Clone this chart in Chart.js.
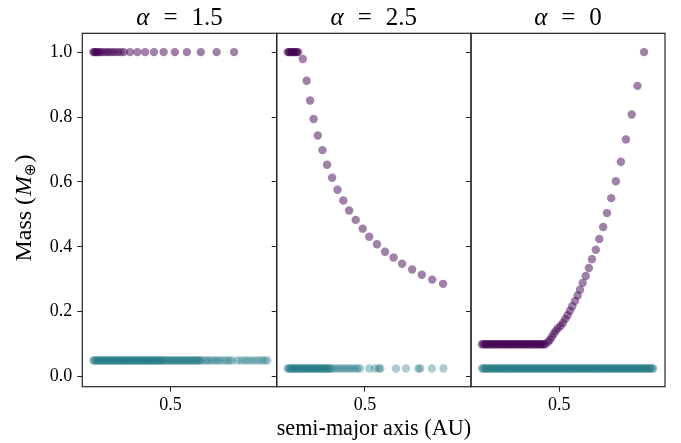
<!DOCTYPE html>
<html>
<head>
<meta charset="utf-8">
<script src="https://cdn.jsdelivr.net/npm/chart.js@4.4.1/dist/chart.umd.min.js"></script>
<style>
  html, body { margin: 0; padding: 0; background: #fff; }
  #wrap { position: relative; width: 681px; height: 443px; }
  #wrap canvas { position: absolute; left: 0; top: 0; }
</style>
</head>
<body>
<div id="wrap">
  <canvas id="c0" width="681" height="443"></canvas>
  <canvas id="c1" width="681" height="443"></canvas>
  <canvas id="c2" width="681" height="443"></canvas>
</div>
<script>
// ---- data ----
var panelSymbols = ['α', 'α', 'α'];
var panelValues = ['1.5', '2.5', '0'];
var yTicks = [0.0, 0.2, 0.4, 0.6, 0.8, 1.0];
var xTicks = [0.5];
var xLimits = [0.2716, 0.7743];
var yLimits = [-0.031, 1.058];

// alpha = 1.5
var p1UpperX = [0.300, 0.303, 0.306, 0.309, 0.313, 0.316, 0.322, 0.328, 0.335, 0.341, 0.348, 0.355,
                0.363, 0.371, 0.379, 0.395, 0.414, 0.434, 0.457, 0.482, 0.511, 0.542, 0.578, 0.619, 0.664];
var p1UpperMass = 1.0;
var p1LowerX = [0.300, 0.303, 0.306, 0.309, 0.312, 0.315, 0.318, 0.321, 0.324, 0.327, 0.330, 0.333,
                0.336, 0.339, 0.342, 0.345, 0.348, 0.351, 0.354, 0.357, 0.360, 0.363, 0.366, 0.369,
                0.372, 0.375, 0.378, 0.381, 0.384, 0.387, 0.390, 0.393, 0.396, 0.399, 0.402, 0.405,
                0.408, 0.411, 0.414, 0.417, 0.420, 0.423, 0.426, 0.429, 0.432, 0.435, 0.438, 0.441,
                0.444, 0.447, 0.450, 0.453, 0.456, 0.459, 0.462, 0.465, 0.468, 0.471, 0.474, 0.477,
                0.480, 0.484, 0.488, 0.492, 0.496, 0.500, 0.504, 0.508, 0.512, 0.516, 0.520, 0.524,
                0.528, 0.532, 0.536, 0.540, 0.544, 0.548, 0.552, 0.556, 0.560, 0.564, 0.568, 0.572,
                0.576, 0.580,
                0.588, 0.595, 0.601, 0.608, 0.616, 0.622, 0.629, 0.637, 0.645, 0.652, 0.659,
                0.673, 0.683, 0.692, 0.700, 0.709, 0.718, 0.727, 0.735, 0.743, 0.750];
var p1LowerMass = 0.05;

// alpha = 2.5
var p2UpperX = [0.300, 0.303, 0.306, 0.309, 0.312, 0.315, 0.318, 0.321, 0.324, 0.327,
                0.339, 0.349, 0.358, 0.367, 0.378, 0.390, 0.402, 0.415, 0.429, 0.444, 0.459,
                0.476, 0.494, 0.511, 0.531, 0.552, 0.574, 0.596, 0.622, 0.647, 0.674, 0.702];
var p2UpperY = [1.0, 1.0, 1.0, 1.0, 1.0, 1.0, 1.0, 1.0, 1.0, 1.0,
                0.979, 0.912, 0.851, 0.794, 0.743, 0.698, 0.653, 0.613, 0.576, 0.543, 0.512,
                0.483, 0.456, 0.431, 0.408, 0.385, 0.367, 0.348, 0.330, 0.314, 0.299, 0.286];
var p2LowerX = [0.300, 0.303, 0.306, 0.309, 0.312, 0.315, 0.318, 0.321, 0.324, 0.327, 0.330, 0.333,
                0.336, 0.339, 0.342, 0.345, 0.348, 0.351, 0.354, 0.357, 0.360, 0.363, 0.366, 0.369,
                0.372, 0.375, 0.378, 0.381, 0.384, 0.387, 0.390, 0.393, 0.396, 0.399, 0.402, 0.405,
                0.408, 0.411,
                0.417, 0.424, 0.431, 0.438, 0.445, 0.452, 0.459, 0.466, 0.473, 0.480, 0.487,
                0.511, 0.526, 0.536, 0.540, 0.580, 0.606, 0.638, 0.643, 0.673, 0.703];
var p2LowerMass = 0.025;

// alpha = 0
var p3FlatX = [0.300, 0.304, 0.308, 0.312, 0.316, 0.320, 0.324, 0.328, 0.332, 0.336, 0.340, 0.344,
               0.348, 0.352, 0.356, 0.360, 0.364, 0.368, 0.372, 0.376, 0.380, 0.384, 0.388, 0.392,
               0.396, 0.400, 0.404, 0.408, 0.412, 0.416, 0.420, 0.424, 0.428, 0.432, 0.436, 0.440,
               0.444, 0.448, 0.452, 0.456, 0.460, 0.464];
var p3FlatMass = 0.1;
var p3RiseX = [0.471, 0.476, 0.481, 0.486, 0.491, 0.497, 0.504, 0.510, 0.516, 0.522, 0.528, 0.534,
               0.541, 0.548, 0.554, 0.561, 0.569, 0.577, 0.585, 0.595, 0.604, 0.614, 0.624, 0.635,
               0.647, 0.660, 0.673, 0.688, 0.703, 0.720];
var p3RiseY = [0.107, 0.113, 0.122, 0.132, 0.141, 0.149, 0.157, 0.166, 0.178, 0.189, 0.203, 0.217,
               0.233, 0.250, 0.268, 0.289, 0.310, 0.335, 0.362, 0.391, 0.424, 0.461, 0.504, 0.550,
               0.602, 0.662, 0.731, 0.808, 0.896, 1.000];
var p3LowerX = [0.300, 0.303, 0.306, 0.309, 0.312, 0.315, 0.318, 0.321, 0.324, 0.327, 0.330, 0.333,
                0.336, 0.339, 0.342, 0.345, 0.348, 0.351, 0.354, 0.357, 0.360, 0.363, 0.366, 0.369,
                0.372, 0.375, 0.378, 0.381, 0.384, 0.387, 0.390, 0.393, 0.396, 0.399, 0.402, 0.405,
                0.408, 0.411, 0.414, 0.417, 0.420, 0.423, 0.426, 0.429, 0.432, 0.435, 0.438, 0.441,
                0.444, 0.447, 0.450, 0.453, 0.456, 0.459, 0.462, 0.465, 0.468, 0.471, 0.474, 0.477,
                0.480, 0.483, 0.486, 0.489, 0.492, 0.495, 0.498, 0.501, 0.504, 0.507, 0.510, 0.513,
                0.516, 0.519, 0.522, 0.525, 0.528, 0.531, 0.534, 0.537, 0.540, 0.543, 0.546, 0.549,
                0.552, 0.555, 0.558, 0.561, 0.564, 0.567, 0.570, 0.573, 0.576, 0.579, 0.582, 0.585,
                0.588, 0.591, 0.594, 0.597, 0.600, 0.603, 0.606, 0.609, 0.612, 0.615, 0.618, 0.621,
                0.624, 0.627, 0.630, 0.633, 0.636, 0.639, 0.642, 0.645, 0.648, 0.651, 0.654, 0.657,
                0.660, 0.663, 0.666, 0.669, 0.672, 0.675, 0.678, 0.681, 0.684, 0.687, 0.690, 0.693,
                0.696, 0.699, 0.702, 0.705, 0.708, 0.711, 0.714, 0.717, 0.720, 0.723, 0.726, 0.729,
                0.732, 0.735, 0.738, 0.741, 0.744];
var p3LowerMass = 0.025;

// ---- styling / layout ----
var purple = 'rgba(68, 1, 84, 0.5)';
var teal = 'rgba(33, 120, 135, 0.38)';
var spine = '#222';
var serif = '"Liberation Serif", "DejaVu Serif", serif';
var panelLeft = [82.3, 276.7, 471];
var panelRight = [276.7, 471, 665];
var plotTop = 33.3;
var xAxisHeight = 56.3;

function pts(xs, ys) {
    return xs.map(function(x, i) { return {x: x, y: Array.isArray(ys) ? ys[i] : ys}; });
}

var panelData = [
    [pts(p1UpperX, p1UpperMass), pts(p1LowerX, p1LowerMass)],
    [pts(p2UpperX, p2UpperY), pts(p2LowerX, p2LowerMass)],
    [pts(p3FlatX, p3FlatMass).concat(pts(p3RiseX, p3RiseY)), pts(p3LowerX, p3LowerMass)]
];

// draw a run of text pieces with their own fonts, starting at x on baseline y
function drawPieces(ctx, pieces, x, y) {
    pieces.forEach(function(p) {
        ctx.font = p.font;
        var w = ctx.measureText(p.text).width;
        ctx.fillText(p.text, x + (p.dx || 0), y + (p.dy || 0));
        x += w + (p.dx || 0) + (p.after || 0);
    });
}
function piecesWidth(ctx, pieces) {
    var w = 0;
    pieces.forEach(function(p) {
        ctx.font = p.font;
        w += ctx.measureText(p.text).width + (p.dx || 0) + (p.after || 0);
    });
    return w;
}

// box round the plot area, alpha title over it, mass label on the first panel
var frame = {
    id: 'frame',
    afterDraw: function(chart, args, opts) {
        var ctx = chart.ctx, a = chart.chartArea;
        ctx.save();
        ctx.strokeStyle = spine;
        ctx.lineWidth = 1.2;
        ctx.strokeRect(a.left, a.top, a.right - a.left, a.bottom - a.top);

        var fItal = 'italic 25px ' + serif;
        var fRom = '25px ' + serif;
        ctx.fillStyle = '#000';
        ctx.textBaseline = 'alphabetic';
        var title = [
            {text: opts.symbol, font: fItal, after: 14},
            {text: '=', font: fRom, after: 14},
            {text: opts.value, font: fRom}
        ];
        var tw = piecesWidth(ctx, title);
        drawPieces(ctx, title, (a.left + a.right) / 2 - tw / 2, 25);

        if (opts.massLabel) {
            var lab = [
                {text: 'Mass (', font: '24px ' + serif, after: 1},
                {text: 'M', font: 'italic 24px ' + serif},
                {text: '⊕', font: '15px "DejaVu Sans", sans-serif', dy: 4, after: 1},
                {text: ')', font: '24px ' + serif}
            ];
            var lw = piecesWidth(ctx, lab);
            ctx.translate(31, 208);
            ctx.rotate(-Math.PI / 2);
            drawPieces(ctx, lab, -lw / 2, 0);
        }
        ctx.restore();
    }
};

function makePanel(i) {
    var first = i === 0;
    var yWidth = first ? 82.3 : 6;
    var ctx = document.getElementById('c' + i);
    return new Chart(ctx, {
        type: 'scatter',
        data: {
            datasets: [{
                data: panelData[i][0],
                backgroundColor: purple,
                pointRadius: 4.2,
                pointBorderWidth: 0
            }, {
                data: panelData[i][1],
                backgroundColor: teal,
                pointRadius: 4.2,
                pointBorderWidth: 0
            }]
        },
        options: {
            responsive: false,
            animation: false,
            events: [],
            layout: {
                padding: {
                    left: panelLeft[i] - yWidth,
                    right: 681 - panelRight[i],
                    top: plotTop,
                    bottom: 0
                }
            },
            plugins: {
                legend: { display: false },
                tooltip: { enabled: false },
                frame: { symbol: panelSymbols[i], value: panelValues[i], massLabel: first }
            },
            scales: {
                x: {
                    type: 'linear',
                    min: xLimits[0],
                    max: xLimits[1],
                    afterBuildTicks: function(s) { s.ticks = xTicks.map(function(v) { return {value: v}; }); },
                    afterFit: function(s) { s.height = xAxisHeight; },
                    border: { display: false },
                    grid: { drawOnChartArea: false, drawTicks: true, tickLength: 5, color: spine, lineWidth: 1 },
                    ticks: {
                        color: '#000',
                        padding: 3,
                        font: { family: serif, size: 18 },
                        callback: function(v) { return Number(v).toFixed(1); }
                    },
                    title: {
                        display: i === 1,
                        text: 'semi-major axis (AU)',
                        color: '#000',
                        font: { family: serif, size: 24 },
                        padding: 0
                    }
                },
                y: {
                    type: 'linear',
                    min: yLimits[0],
                    max: yLimits[1],
                    afterBuildTicks: function(s) { s.ticks = yTicks.map(function(v) { return {value: v}; }); },
                    afterFit: function(s) { s.width = yWidth; },
                    border: { display: false },
                    grid: { drawOnChartArea: false, drawTicks: true, tickLength: 5, color: spine, lineWidth: 1 },
                    ticks: {
                        display: first,
                        color: '#000',
                        padding: 5,
                        font: { family: serif, size: 18 },
                        callback: function(v) { return Number(v).toFixed(1); }
                    }
                }
            }
        },
        plugins: [frame]
    });
}

var charts = [0, 1, 2].map(makePanel);
</script>
</body>
</html>
